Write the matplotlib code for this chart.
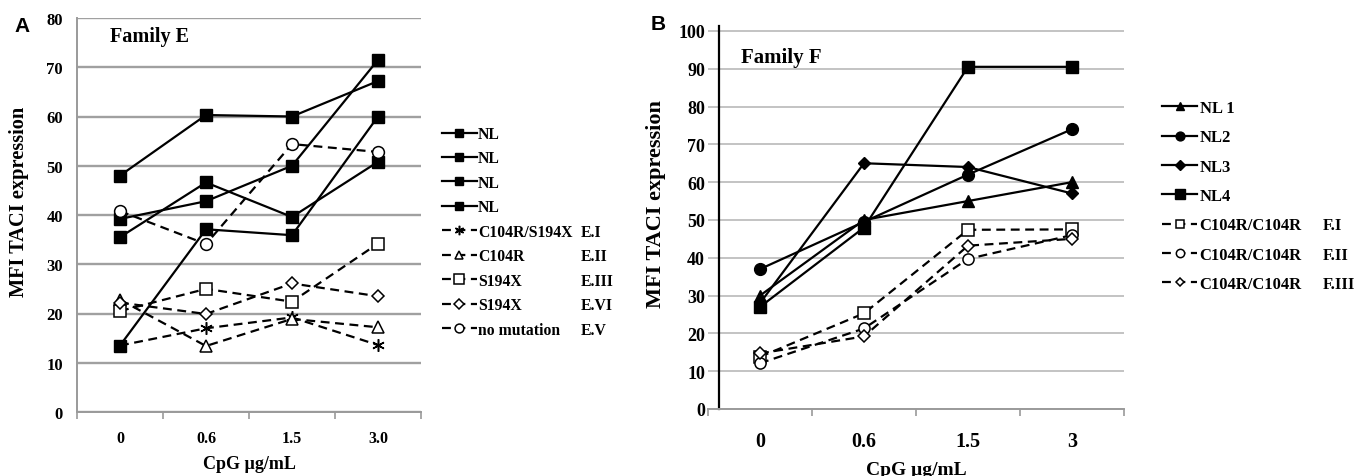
import matplotlib

matplotlib.use("Agg")
import matplotlib.pyplot as plt
from matplotlib.ticker import FixedLocator

plt.rcParams["font.family"] = ["Liberation Serif", "DejaVu Serif"]
plt.rcParams["font.weight"] = "bold"
plt.rcParams["axes.labelweight"] = "bold"

# ---- panel A: Family E ----
doses_e = ["0", "0.6", "1.5", "3.0"]
nl_e1 = [48, 60.3, 60, 67.2]
nl_e2 = [39.2, 42.8, 50, 71.5]
nl_e3 = [35.5, 46.6, 39.6, 50.8]
nl_e4 = [13.5, 37.1, 35.9, 60]
e_i = [13.5, 17, 19.2, 13.6]      # C104R/S194X
e_ii = [22.8, 13.4, 18.9, 17.2]   # C104R
e_iii = [20.5, 25, 22.4, 34.2]    # S194X
e_vi = [22.2, 19.9, 26.1, 23.5]   # S194X
e_v = [40.8, 34.1, 54.4, 52.8]    # no mutation

labels_e = ["NL", "NL", "NL", "NL", "C104R/S194X", "C104R", "S194X", "S194X", "no mutation"]
codes_e = ["", "", "", "", "E.I", "E.II", "E.III", "E.VI", "E.V"]

# ---- panel B: Family F ----
doses_f = ["0", "0.6", "1.5", "3"]
nl_f1 = [30, 50, 55, 60]
nl_f2 = [37, 49.5, 62, 74]
nl_f3 = [28, 65, 64, 57]
nl_f4 = [27, 48, 90.5, 90.5]
f_i = [13.8, 25.3, 47.4, 47.5]
f_ii = [12.1, 21.3, 39.7, 46]
f_iii = [14.7, 19.2, 43.2, 45]

labels_f = ["NL 1", "NL2", "NL3", "NL4", "C104R/C104R", "C104R/C104R", "C104R/C104R"]
codes_f = ["", "", "", "", "F.I", "F.II", "F.III"]

W, H = 1358, 477
fig = plt.figure(figsize=(W / 100, H / 100), dpi=100)

DASH = (4, 2.5)


def solid(ax, y, marker, ms):
    return ax.plot(range(len(y)), y, color="black", lw=1.6, marker=marker, ms=ms,
                   mfc="black", mec="black", clip_on=False)[0]


def dashed(ax, y, marker, ms):
    return ax.plot(range(len(y)), y, color="black", lw=1.6, dashes=DASH, marker=marker,
                   ms=ms, mfc="white", mec="black", mew=1.1, clip_on=False)[0]


def style_axes(ax, labels, grid_color, grid_lw):
    ax.set_xlim(-0.5, len(labels) - 0.5)
    ax.set_xticks(range(len(labels)))
    ax.set_xticklabels(labels)
    ax.xaxis.set_minor_locator(FixedLocator([i - 0.5 for i in range(len(labels) + 1)]))
    ax.tick_params(axis="x", which="major", length=0)
    ax.tick_params(axis="x", which="minor", length=5, width=1.2, color="#9a9a9a", direction="out")
    ax.tick_params(axis="y", length=0)
    ax.yaxis.grid(True, color=grid_color, lw=grid_lw)
    ax.set_axisbelow(True)
    for side in ("top", "right"):
        ax.spines[side].set_visible(False)
    ax.spines["bottom"].set_color("#9a9a9a")
    ax.spines["bottom"].set_linewidth(1.4)


# panel A
ax1 = fig.add_axes([77 / W, 1 - 413 / H, 344 / W, 394 / H])
h_e = [
    solid(ax1, nl_e1, "s", 8.5),
    solid(ax1, nl_e2, "s", 8.5),
    solid(ax1, nl_e3, "s", 8.5),
    solid(ax1, nl_e4, "s", 8.5),
    dashed(ax1, e_i, (6, 2, 0), 9),
    dashed(ax1, e_ii, "^", 8),
    dashed(ax1, e_iii, "s", 9),
    dashed(ax1, e_vi, "D", 6.5),
    dashed(ax1, e_v, "o", 8.5),
]
style_axes(ax1, doses_e, "#a0a0a0", 1.7)
ax1.set_ylim(0, 80)
ax1.set_yticks(range(0, 81, 10))
ax1.spines["left"].set_color("#9a9a9a")
ax1.spines["left"].set_linewidth(1.4)
ax1.tick_params(axis="y", labelsize=12, pad=10)
ax1.tick_params(axis="x", which="major", labelsize=11.5, pad=13)
ax1.set_ylabel("MFI TACI expression", fontsize=14.7)
ax1.yaxis.set_label_coords(-0.14, 0.535)
ax1.set_xlabel("CpG µg/mL", fontsize=13)
ax1.xaxis.set_label_coords(0.5, -0.11)
ax1.text(0.095, 0.955, "Family E", transform=ax1.transAxes, fontsize=14.5, va="center")

# panel B
ax2 = fig.add_axes([708 / W, 1 - 410 / H, 416 / W, 383 / H])
h_f = [
    solid(ax2, nl_f1, "^", 8),
    solid(ax2, nl_f2, "o", 8.5),
    solid(ax2, nl_f3, "D", 6.5),
    solid(ax2, nl_f4, "s", 9),
    dashed(ax2, f_i, "s", 8),
    dashed(ax2, f_ii, "o", 8),
    dashed(ax2, f_iii, "D", 6),
]
style_axes(ax2, doses_f, "#b3b3b3", 1.1)
ax2.set_ylim(0, 101.3)
ax2.set_yticks(range(0, 101, 10))
ax2.spines["left"].set_position(("axes", 11 / 416))
ax2.spines["left"].set_color("black")
ax2.spines["left"].set_linewidth(1.6)
ax2.tick_params(axis="y", labelsize=13, pad=10)
ax2.tick_params(axis="x", which="major", labelsize=14.4, pad=16)
ax2.set_ylabel("MFI TACI expression", fontsize=16)
ax2.yaxis.set_label_coords(-0.1, 0.538)
ax2.set_xlabel("CpG µg/mL", fontsize=14)
ax2.xaxis.set_label_coords(0.5, -0.135)
ax2.text(0.08, 0.92, "Family F", transform=ax2.transAxes, fontsize=15, va="center")

# panel letters
for x, y, s in [(14, 27, "A"), (651, 25, "B")]:
    fig.text(x / W, 1 - y / H, s, fontsize=15, family="Liberation Sans", weight="bold", va="center")


def legend_with_codes(handles, labels, codes, left, top, code_x, fs, spacing, hlen, hpad, mscale):
    leg = fig.legend(handles, labels, loc="upper left", bbox_to_anchor=(left / W, 1 - top / H),
                     frameon=False, fontsize=fs, labelspacing=spacing, handlelength=hlen,
                     handletextpad=hpad, borderpad=0, borderaxespad=0, markerscale=mscale)
    fig.canvas.draw()
    for t, code in zip(leg.get_texts(), codes):
        if not code:
            continue
        x0, y0 = t.get_transform().transform(t.get_position())
        fig.text(code_x / W, y0 / H, code, fontsize=fs, va=t.get_verticalalignment())
    return leg


legend_with_codes(h_e, labels_e, codes_e, 442, 127, 581, 11.3, 0.54, 2.2, 0.1, 0.75)
legend_with_codes(h_f, labels_f, codes_f, 1162, 101, 1323, 12, 0.8, 2.1, 0.15, 0.75)

fig.savefig("out.png", dpi=100)
